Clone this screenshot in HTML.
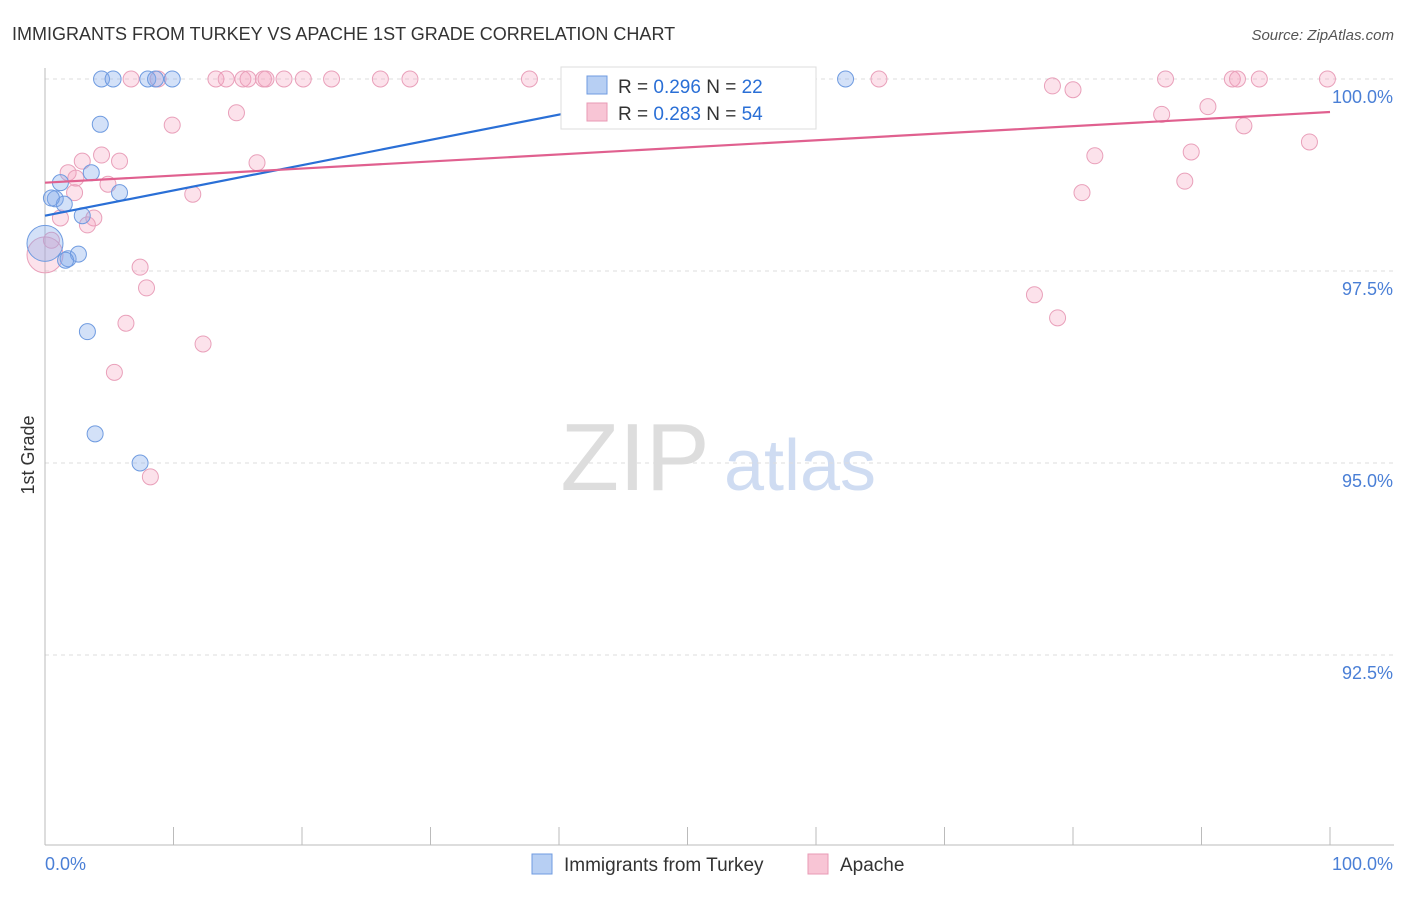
<!DOCTYPE html>
<html><head><meta charset="utf-8"><style>
body{margin:0;background:#fff;font-family:"Liberation Sans",sans-serif;}
svg text{font-family:"Liberation Sans",sans-serif;}
</style></head><body>
<svg width="1406" height="892" viewBox="0 0 1406 892">
<text x="12" y="40" font-size="18" fill="#333">IMMIGRANTS FROM TURKEY VS APACHE 1ST GRADE CORRELATION CHART</text>
<text x="1394" y="40" font-size="15" fill="#555" text-anchor="end" font-style="italic">Source: ZipAtlas.com</text>
<g>
<text x="635" y="490" font-size="96" fill="#ddd" text-anchor="middle" font-family="Liberation Serif, serif">ZIP</text>
<text x="800" y="490" font-size="72" fill="#cfdcf2" text-anchor="middle">atlas</text>
</g>
<g id="grid"></g>
<g id="axes"></g>
<g id="marks"></g>
<text x="34" y="455" font-size="18" fill="#333" text-anchor="middle" transform="rotate(-90 34 455)">1st Grade</text>
<g>
<rect x="561" y="67" width="255" height="62" fill="#fff" stroke="#ddd"/>
<rect x="587" y="76" width="20" height="18" fill="#b7cff3" stroke="#6f9be0"/>
<text x="618" y="93" font-size="19" fill="#333">R = <tspan fill="#2a6fd6">0.296</tspan>   N = <tspan fill="#2a6fd6">22</tspan></text>
<rect x="587" y="103" width="20" height="18" fill="#f8c5d5" stroke="#e89ab5"/>
<text x="618" y="120" font-size="19" fill="#333">R = <tspan fill="#2a6fd6">0.283</tspan>   N = <tspan fill="#2a6fd6">54</tspan></text>
</g>
<g>
<rect x="532" y="854" width="20" height="20" fill="#b7cff3" stroke="#6f9be0"/>
<text x="564" y="871" font-size="19" fill="#333">Immigrants from Turkey</text>
<rect x="808" y="854" width="20" height="20" fill="#f8c5d5" stroke="#e89ab5"/>
<text x="840" y="871" font-size="19" fill="#333">Apache</text>
</g>
</svg>
<script>
const yTicks=[100,97.5,95,92.5];
const yTickLabels=["100.0%","97.5%","95.0%","92.5%"];
const xTickLabels=["0.0%","100.0%"];
const blueX=[4.4,5.3,8.0,8.6,9.9,62.3,4.3,1.2,3.6,5.8,0.8,1.5,2.9,0.0,1.8,2.6,3.3,3.9,7.4,0.5,1.6];
const blueY=[100,100,100,100,100,100,99.41,98.65,98.78,98.52,98.44,98.37,98.22,97.86,97.66,97.72,96.71,95.38,95.0,98.45,97.64];
const blueBig=[13];
const pinkX=[6.7,8.8,13.3,14.1,15.4,15.8,17.0,17.2,18.6,20.1,22.3,26.1,28.4,37.7,64.9,87.2,92.4,92.8,94.5,99.8,78.4,80.0,14.9,9.9,86.9,90.5,93.3,98.4,4.4,5.8,2.9,81.7,89.2,16.5,1.8,2.4,4.9,88.7,11.5,80.7,2.3,1.2,3.8,3.3,0.5,0,7.4,7.9,6.3,12.3,5.4,77.0,78.8,8.2];
const pinkY=[100,100,100,100,100,100,100,100,100,100,100,100,100,100,100,100,100,100,100,100,99.91,99.86,99.56,99.40,99.54,99.64,99.39,99.18,99.01,98.93,98.93,99.0,99.05,98.91,98.78,98.71,98.63,98.67,98.50,98.52,98.52,98.19,98.19,98.10,97.90,97.71,97.55,97.28,96.82,96.55,96.18,97.19,96.89,94.82];
const pinkBig=[45];
const blueLine=[[0,98.22],[54.1,100]];
const pinkLine=[[0,98.65],[100,99.57]];
const X=v=>45+v*12.85;
const Y=v=>79+(100-v)*76.8;
const NS="http://www.w3.org/2000/svg";
function mk(t,a,p){const e=document.createElementNS(NS,t);for(const k in a)e.setAttribute(k,a[k]);p.appendChild(e);return e;}
const grid=document.getElementById('grid'),axes=document.getElementById('axes'),marks=document.getElementById('marks');
yTicks.forEach((t,i)=>{
 const l=mk('line',{x1:45,x2:1394,y1:Y(t),y2:Y(t),stroke:'#ddd','stroke-dasharray':'4 4'},grid);
 
 
 const tx=mk('text',{x:1393,y:Y(t)+24,'font-size':18,fill:'#4a7fd6','text-anchor':'end'},axes);
 tx.textContent=yTickLabels[i];
 
 
});
const ax=mk('line',{x1:45,x2:1394,y1:845,y2:845,stroke:'#bbb'},axes);


const ay=mk('line',{x1:45,x2:45,y1:68,y2:845,stroke:'#bbb'},axes);


for(let i=0;i<=10;i++){
 const t=mk('line',{x1:X(i*10),x2:X(i*10),y1:827,y2:845,stroke:'#bbb'},axes);
 
 
}
const xl0=mk('text',{x:45,y:870,'font-size':18,fill:'#4a7fd6'},axes);xl0.textContent=xTickLabels[0];


const xl1=mk('text',{x:1393,y:870,'font-size':18,fill:'#4a7fd6','text-anchor':'end'},axes);xl1.textContent=xTickLabels[1];


function pts(xs,ys,big,fill,stroke,name){
 xs.forEach((x,i)=>{
  const c=mk('circle',{cx:X(x),cy:Y(ys[i]),r:big.includes(i)?18:8,fill:fill,stroke:stroke,'stroke-width':1},marks);
  
  
 });
}
pts(pinkX,pinkY,pinkBig,'rgba(244,160,190,0.3)','#e9a0ba','apache-point');
pts(blueX,blueY,blueBig,'rgba(130,170,235,0.35)','#6f9be0','turkey-point');
const bl=mk('line',{x1:X(blueLine[0][0]),y1:Y(blueLine[0][1]),x2:X(blueLine[1][0]),y2:Y(blueLine[1][1]),stroke:'#2a6fd6','stroke-width':2.2},marks);


const pl=mk('line',{x1:X(pinkLine[0][0]),y1:Y(pinkLine[0][1]),x2:X(pinkLine[1][0]),y2:Y(pinkLine[1][1]),stroke:'#e0608f','stroke-width':2.2},marks);


</script>
</body></html>
